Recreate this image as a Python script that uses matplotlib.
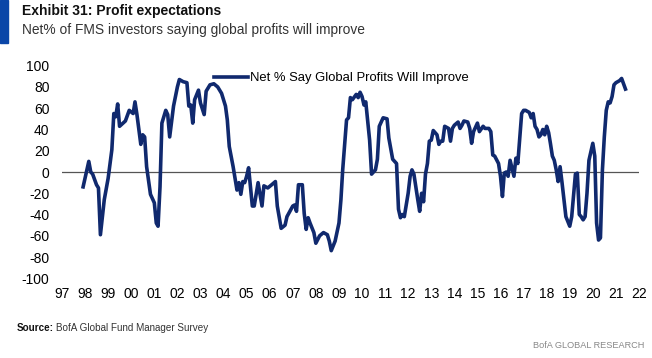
import matplotlib.pyplot as plt
import matplotlib.dates as mdates
import pandas as pd
from matplotlib.patches import Rectangle

# monthly readings, net % of FMS investors saying global profits will improve
months = [
    '1997-12', '1998-03', '1998-04', '1998-05', '1998-07', '1998-08', '1998-09', '1998-11',
    '1999-01', '1999-03', '1999-04', '1999-05', '1999-06', '1999-07', '1999-10', '1999-12',
    '2000-02', '2000-03', '2000-04', '2000-06', '2000-07', '2000-08', '2000-09', '2000-11',
    '2001-01', '2001-02', '2001-03', '2001-04', '2001-05', '2001-07', '2001-08', '2001-09',
    '2001-11', '2002-01', '2002-02', '2002-04', '2002-06', '2002-07', '2002-08', '2002-09',
    '2002-10', '2002-12', '2003-01', '2003-03', '2003-04', '2003-06', '2003-08', '2003-10',
    '2003-12', '2004-02', '2004-03', '2004-04', '2004-06', '2004-07', '2004-08', '2004-09',
    '2004-10', '2004-11', '2004-12', '2005-01', '2005-02', '2005-03', '2005-04', '2005-05',
    '2005-07', '2005-09', '2005-10', '2005-12', '2006-02', '2006-04', '2006-05', '2006-07',
    '2006-09', '2006-10', '2007-01', '2007-02', '2007-03', '2007-04', '2007-06', '2007-07',
    '2007-08', '2007-09', '2007-10', '2007-12', '2008-01', '2008-03', '2008-05', '2008-07',
    '2008-08', '2008-09', '2008-11', '2009-01', '2009-02', '2009-03', '2009-05', '2009-06',
    '2009-07', '2009-08', '2009-10', '2009-11', '2009-12', '2010-01', '2010-02', '2010-03',
    '2010-05', '2010-06', '2010-08', '2010-09', '2010-10', '2010-12', '2011-02', '2011-03',
    '2011-05', '2011-06', '2011-07', '2011-08', '2011-09', '2011-10', '2011-11', '2012-01',
    '2012-02', '2012-03', '2012-04', '2012-06', '2012-07', '2012-08', '2012-09', '2012-10',
    '2012-11', '2012-12', '2013-01', '2013-02', '2013-04', '2013-05', '2013-06', '2013-07',
    '2013-08', '2013-10', '2013-11', '2013-12', '2014-01', '2014-03', '2014-04', '2014-05',
    '2014-06', '2014-08', '2014-09', '2014-10', '2014-11', '2015-01', '2015-02', '2015-04',
    '2015-05', '2015-07', '2015-08', '2015-09', '2015-10', '2015-12', '2016-01', '2016-02',
    '2016-03', '2016-04', '2016-05', '2016-06', '2016-08', '2016-09', '2016-10', '2016-12',
    '2017-01', '2017-02', '2017-03', '2017-04', '2017-05', '2017-06', '2017-07', '2017-08',
    '2017-09', '2017-10', '2017-11', '2017-12', '2018-01', '2018-02', '2018-03', '2018-04',
    '2018-05', '2018-06', '2018-07', '2018-08', '2018-09', '2018-10', '2018-11', '2019-01',
    '2019-02', '2019-03', '2019-04', '2019-05', '2019-06', '2019-07', '2019-08', '2019-09',
    '2019-10', '2019-11', '2020-01', '2020-02', '2020-03', '2020-04', '2020-05', '2020-06',
    '2020-07', '2020-08', '2020-09', '2020-10', '2020-11', '2020-12', '2021-01', '2021-02',
    '2021-03', '2021-04', '2021-05', '2021-06',
]
net_pct = [
    -14, 10, 0, -2, -12, -15, -59, -26,
    -6, 21, 55, 52, 64, 43, 48, 58,
    55, 66, 54, 26, 35, 33, 5, -21,
    -29, -48, -51, -14, 46, 58, 54, 33,
    62, 80, 87, 85, 84, 62, 63, 46,
    68, 77, 65, 54, 76, 82, 83, 80,
    74, 62, 49, 24, 5, -6, -17, -10,
    -21, -9, -10, -4, 4, -13, -32, -32,
    -10, -32, -13, -15, -12, -9, -32, -53,
    -50, -42, -32, -31, -37, -12, -12, -39,
    -54, -43, -48, -57, -67, -60, -57, -59,
    -65, -74, -65, -48, -26, 2, 49, 51,
    70, 68, 73, 70, 75, 71, 63, 66,
    30, -2, 2, 12, 43, 51, 50, 32,
    12, 10, 8, -35, -43, -40, -42, -20,
    -4, 2, -2, -26, -37, -20, -28, -2,
    8, 29, 30, 39, 35, 26, 29, 29,
    43, 41, 29, 41, 44, 47, 41, 44,
    48, 47, 41, 27, 38, 46, 38, 43,
    41, 41, 38, 16, 15, 8, -4, -23,
    -1, 0, -4, 11, -4, 13, 8, 55,
    58, 58, 57, 56, 51, 55, 43, 40,
    33, 35, 40, 35, 43, 37, 27, 15,
    11, 2, -9, 5, -10, -26, -42, -51,
    -42, -23, -2, -1, -40, -42, -45, -42,
    -20, 11, 27, 15, -48, -64, -62, 2,
    33, 58, 66, 65, 71, 82, 84, 85,
    86, 88, 83, 78,
]
years = list(range(1997, 2023))
yticks = [100, 80, 60, 40, 20, 0, -20, -40, -60, -80, -100]

navy = '#10296e'
body_font = ['Liberation Sans', 'DejaVu Sans']

dates = pd.to_datetime(months)

fig = plt.figure(figsize=(6.52, 3.58), dpi=100)
ax = fig.add_axes([62 / 652, 1 - 278.3 / 358, 577 / 652, 212.6 / 358])

ax.plot(dates, net_pct, color=navy, linewidth=2.6, solid_joinstyle='round',
        label='Net % Say Global Profits Will Improve')
ax.axhline(0, color='#555555', linewidth=0.9, zorder=1)

ax.set_xlim(pd.Timestamp('1997-01-01'), pd.Timestamp('2022-01-01'))
ax.set_ylim(-100, 100)
ax.set_yticks(yticks)
ax.set_yticklabels([str(v) for v in yticks], fontsize=10, family=body_font)
ax.set_xticks([pd.Timestamp(f'{y}-01-01') for y in years])
ax.xaxis.set_major_formatter(mdates.DateFormatter('%y'))
for lab in ax.get_xticklabels():
    lab.set_fontsize(10)
    lab.set_family(body_font)
ax.tick_params(axis='both', length=0)
ax.tick_params(axis='y', pad=9)
ax.tick_params(axis='x', pad=6)
for s in ax.spines.values():
    s.set_visible(False)

leg = ax.legend(loc='upper left', bbox_to_anchor=(0.254, 0.995), frameon=False,
                prop={'family': body_font, 'size': 9.4}, handlelength=2.6,
                handletextpad=0.2, borderaxespad=0)

# header
fig.patches.append(Rectangle((0, 1 - 43 / 358), 8 / 652, 43 / 358,
                             transform=fig.transFigure, color='#0a46a8'))
fig.text(22 / 652, 1 - 11 / 358, 'Exhibit 31: Profit expectations', fontsize=10,
         fontweight='bold', family=body_font, va='center', ha='left', color='#111111')
fig.text(22 / 652, 1 - 30 / 358, 'Net% of FMS investors saying global profits will improve',
         fontsize=9.9, family=body_font, va='center', ha='left', color='#333333')

# footer
src = fig.text(17 / 652, 1 - 328 / 358, 'Source:', fontsize=7.1, fontweight='bold',
               family=body_font, va='center', ha='left', color='#111111')
fig.canvas.draw()
bb = src.get_window_extent()
fig.text(bb.x1 / 652 + 2 / 652, 1 - 328 / 358, 'BofA Global Fund Manager Survey', fontsize=7.1,
         family=body_font, va='center', ha='left', color='#333333')
fig.text(644 / 652, 1 - 346 / 358, 'BofA GLOBAL RESEARCH', fontsize=6.6,
         family=body_font, va='center', ha='right', color='#888888')

fig.savefig('out.png', dpi=100)
